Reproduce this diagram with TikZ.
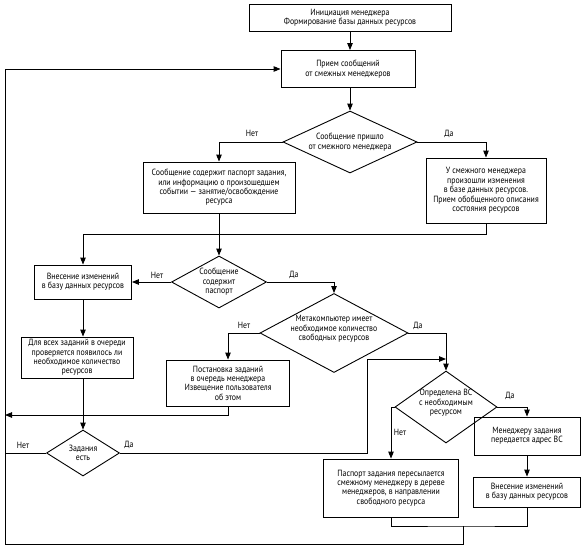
\documentclass[tikz,border=0pt]{standalone}
\usepackage{fontspec}
\setmainfont{PT Sans}[FakeStretch=0.87]
\usetikzlibrary{arrows.meta,shapes.geometric}
\tikzset{
  every node/.style={font=\fontsize{9}{9.4}\selectfont},
  box/.style={draw, rectangle, line width=0.9pt, inner sep=0pt, align=center},
  dia/.style={draw, diamond, line width=0.9pt, inner sep=0pt},
  conn/.style={line width=0.9pt},
  arr/.style={line width=0.9pt, -{Triangle[length=7pt,width=5.5pt]}},
  lbl/.style={inner sep=0pt}
}
\begin{document}
\begin{tikzpicture}[x=1pt,y=-1pt]
\useasboundingbox (0,0) rectangle (583,549);
% boxes
\node[box, minimum width=202, minimum height=27] (b1) at (350,17.5) {Инициация менеджера\\Формирование базы данных ресурсов};
\node[box, minimum width=134, minimum height=37] (b2) at (348,69) {Прием сообщений\\от смежных менеджеров};
\node[box, minimum width=152, minimum height=51] (b3) at (219,187.5) {Сообщение содержит паспорт задания,\\или информацию о произошедшем\\событии — занятие/освобождение\\ресурса};
\node[box, minimum width=120, minimum height=65] (b4) at (486,190.5) {У смежного менеджера\\произошли изменения\\в базе данных ресурсов.\\Прием обобщенного описания\\состояния ресурсов};
\node[box, minimum width=97, minimum height=34] (b5) at (83,282) {Внесение изменений\\в базу данных ресурсов};
\node[box, minimum width=112, minimum height=41] (b6) at (77,357.5) {Для всех заданий в очереди\\проверяется появилось ли\\необходимое количество\\ресурсов};
\node[box, minimum width=123, minimum height=46] (b7) at (228,383) {Постановка заданий\\в очередь менеджера\\Извещение пользователя\\об этом};
\node[box, minimum width=106, minimum height=38] (b8) at (527,436) {Менеджеру задания\\передается адрес ВС};
\node[box, minimum width=107, minimum height=30] (b9) at (527,492) {Внесение изменений\\в базу данных ресурсов};
\node[box, minimum width=135, minimum height=58] (b10) at (391,488) {Паспорт задания пересылается\\смежному менеджеру в дереве\\менеджеров, в направлении\\свободного ресурса};
% diamonds
\node[dia, minimum width=134, minimum height=62, label={[align=center,inner sep=0pt]center:Сообщение пришло\\от смежного менеджера}] (d1) at (350,142) {};
\node[dia, minimum width=95, minimum height=52, label={[align=center,inner sep=0pt]center:Сообщение\\содержит\\паспорт}] (d2) at (219,282) {};
\node[dia, minimum width=148, minimum height=79, label={[align=center,inner sep=0pt,yshift=4pt]center:Метакомпьютер имеет\\необходимое количество\\свободных ресурсов}] (d3) at (334,333) {};
\node[dia, minimum width=73, minimum height=46, label={[align=center,inner sep=0pt]center:Задания\\есть}] (d4) at (83,453) {};
\node[dia, minimum width=102, minimum height=72, label={[align=center,inner sep=0pt,yshift=4pt]center:Определена ВС\\с необходимым\\ресурсом}] (d5) at (446,407) {};
% labels
\node[lbl] (n1) at (252,133) {Нет};
\node[lbl] (y1) at (449,134) {Да};
\node[lbl] (n2) at (157,275) {Нет};
\node[lbl] (y2) at (294,275) {Да};
\node[lbl] (n3) at (244,325) {Нет};
\node[lbl] (y3) at (418,326) {Да};
\node[lbl] (n4) at (23,445) {Нет};
\node[lbl] (y4) at (129,445) {Да};
\node[lbl] (y5) at (510,396) {Да};
\node[lbl] (n5) at (400,432) {Нет};
% coordinates
\coordinate (j1) at (83,234);
\coordinate (lb7) at (5,415);
\coordinate (lnet) at (5,453);
\coordinate (c1) at (367,453);
\coordinate (c2) at (367,359);
\coordinate (c3) at (446,359);
\coordinate (jb) at (463,526);
\coordinate (lc1) at (463,544);
\coordinate (lc2) at (5,544);
\coordinate (lc3) at (5,69);
% connectors
\draw[arr] (b1.south) -- (b1.south |- b2.north);
\draw[arr] (d1.north |- b2.south) -- (d1.north);
\draw[arr] (d1.west) -| (b3.north);
\draw[arr] (d1.east) -| (b4.north);
\draw[arr] (b4.south) |- (j1) -- (b5.north);
\draw[arr] (b3.south) -- (d2.north);
\draw[arr] (d2.west) -- (b5.east);
\draw[arr] (d2.east) -| (d3.north);
\draw[arr] (d3.west) -| (b7.north);
\draw[arr] (d3.east) -| (d5.north);
\draw[arr] (b5.south) -- (b5.south |- b6.north);
\draw[arr] (b5.south |- b6.south) -- (d4.north);
\draw[arr] (b7.south) |- (lb7);
\draw[conn] (d4.west) -- (lnet);
\draw[arr] (d4.east) -- (c1) -- (c2) -- (c3);
\draw[arr] (d5.east) -| (b8.north);
\draw[arr] (d5.west) -| (b10.north);
\draw[arr] (b8.south) -- (b9.north);
\draw[conn] (b10.south) |- (jb) -| (b9.south);
\draw[arr] (jb) -- (lc1) -- (lc2) -- (lc3) -- (b2.west);
\end{tikzpicture}
\end{document}
